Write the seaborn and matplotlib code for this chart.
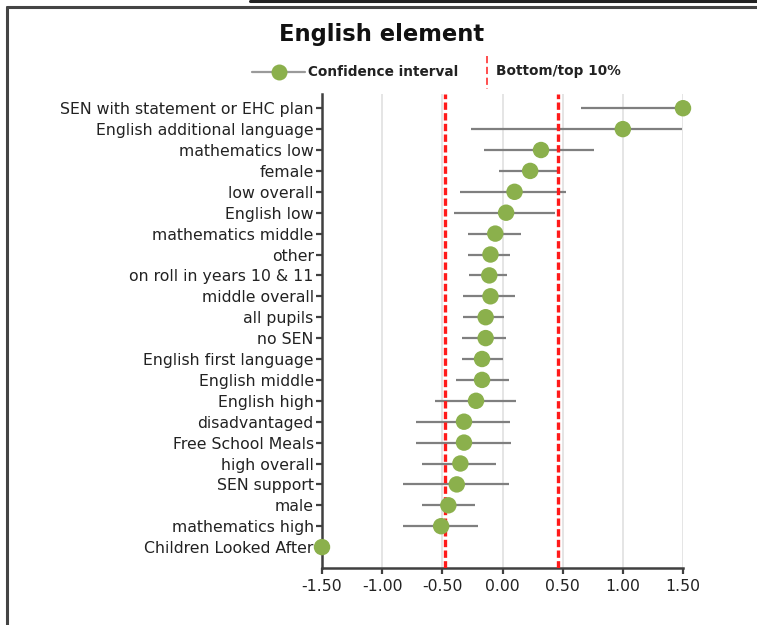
import matplotlib
matplotlib.use("Agg")
import matplotlib.pyplot as plt
from matplotlib.lines import Line2D
import seaborn as sns
import pandas as pd
import numpy as np

categories = [
    "SEN with statement or EHC plan", "English additional language", "mathematics low",
    "female", "low overall", "English low", "mathematics middle", "other",
    "on roll in years 10 & 11", "middle overall", "all pupils", "no SEN",
    "English first language", "English middle", "English high", "disadvantaged",
    "Free School Meals", "high overall", "SEN support", "male", "mathematics high",
    "Children Looked After",
]
values = [1.50, 1.00, 0.32, 0.23, 0.10, 0.03, -0.06, -0.10, -0.11, -0.10, -0.14, -0.14,
          -0.17, -0.17, -0.22, -0.32, -0.32, -0.35, -0.38, -0.45, -0.51, -1.50]
ci_low = [0.65, -0.26, -0.15, -0.03, -0.35, -0.40, -0.29, -0.29, -0.28, -0.33, -0.33, -0.34,
          -0.34, -0.39, -0.56, -0.72, -0.72, -0.67, -0.83, -0.67, -0.83, np.nan]
ci_high = [1.50, 1.49, 0.76, 0.46, 0.53, 0.44, 0.15, 0.06, 0.04, 0.10, 0.01, 0.03,
           0.00, 0.05, 0.11, 0.06, 0.07, -0.05, 0.05, -0.23, -0.20, np.nan]
threshold_low = -0.48
threshold_high = 0.46
x_ticks = [-1.5, -1.0, -0.5, 0.0, 0.5, 1.0, 1.5]

df = pd.DataFrame({"group": categories, "value": values, "lo": ci_low, "hi": ci_high})

sns.set_style("white")
plt.rcParams["font.family"] = ["DejaVu Sans"]

W, H = 757, 625
fig = plt.figure(figsize=(W / 100, H / 100), dpi=100)
ax = fig.add_axes([322 / W, 1 - 568 / H, (683 - 322) / W, (568 - 94) / H])

green = "#8BB04C"
gray = "#7F7F7F"
dark = "#404040"

# grid
for t in x_ticks:
    ax.axvline(t, color="#E3E3E3", lw=1.3, zorder=0)

ci = df.dropna(subset=["lo", "hi"])
ax.hlines(y=ci["group"], xmin=ci["lo"], xmax=ci["hi"], color=gray, lw=1.6, zorder=2)
sns.scatterplot(data=df, x="value", y="group", ax=ax, color=green, s=140,
                edgecolor="none", zorder=4, clip_on=False, legend=False)

for t in (threshold_low, threshold_high):
    ax.axvline(t, color="#FF1A1A", lw=2.4, ls=(0, (2.2, 1.0)), zorder=3)

ax.set_xlim(-1.5, 1.5)
ax.set_ylim(22.0, -0.68)
ax.set_xticks(x_ticks)
ax.set_xticklabels([f"{t:.2f}" for t in x_ticks])
ax.set_xlabel("")
ax.set_ylabel("")
for s in ("top", "right"):
    ax.spines[s].set_visible(False)
for s in ("left", "bottom"):
    ax.spines[s].set_color(dark)
    ax.spines[s].set_linewidth(1.8)
ax.tick_params(axis="both", which="major", direction="out", length=4, width=1.6,
               color=dark, labelsize=11.3, labelcolor="#222222", pad=2,
               left=True, bottom=True)
ax.tick_params(axis="x", pad=4)

# title
fig.text(382 / W, 1 - 35 / H, "English element", ha="center", va="center",
         fontsize=16.3, fontweight="bold", color="#111111")

# legend (manual)
ly = 1 - 72 / H
fig.add_artist(Line2D([252 / W, 305 / W], [ly, ly], color="#9A9A9A", lw=1.6))
fig.add_artist(Line2D([279 / W], [ly], marker="o", markersize=11.5, color=green,
                      markeredgecolor="none"))
fig.text(308 / W, ly, "Confidence interval", ha="left", va="center",
         fontsize=9.8, fontweight="bold", color="#222222")
fig.add_artist(Line2D([487 / W, 487 / W], [1 - 56 / H, 1 - 89 / H], color="#FF4040",
                      lw=1.3, ls=(0, (4, 2))))
fig.text(496 / W, ly + 0.002, "Bottom/top 10%", ha="left", va="center",
         fontsize=9.8, fontweight="bold", color="#222222")

# frame lines
fig.add_artist(Line2D([7 / W, 7 / W], [1 - 7 / H, 0], color="#444444", lw=2.2))
fig.add_artist(Line2D([7 / W, 1], [1 - 7 / H, 1 - 7 / H], color="#444444", lw=2.2))
fig.add_artist(Line2D([250 / W, 1], [1 - 1 / H, 1 - 1 / H], color="#222222", lw=2.2))

fig.savefig("out.png", dpi=100, facecolor="white")
